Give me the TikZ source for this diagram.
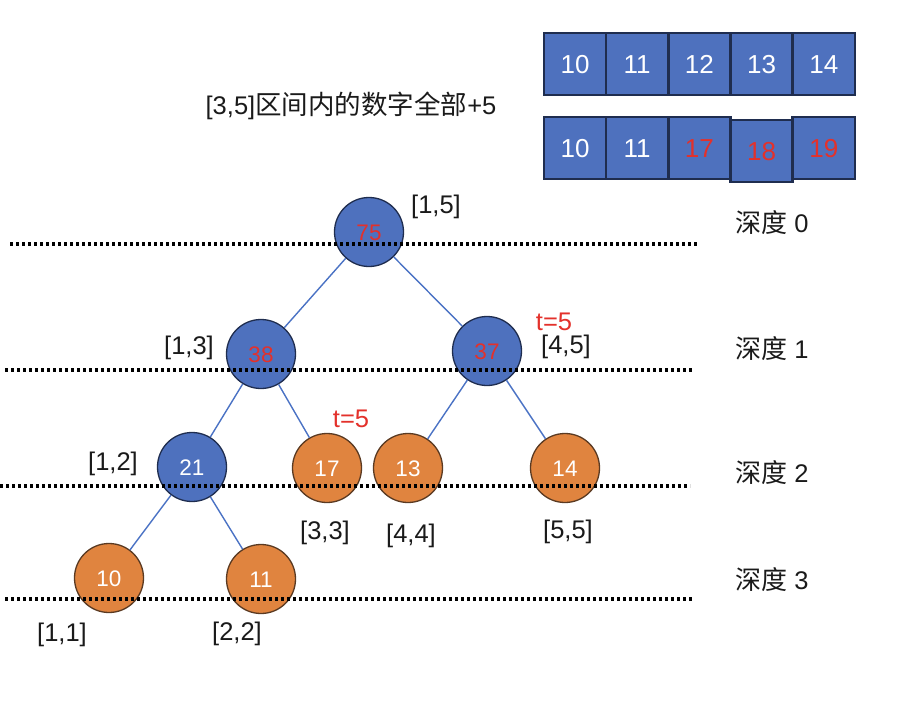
\documentclass[tikz,border=0pt]{standalone}
\usepackage{fontspec}
\setmainfont{Liberation Sans}
\newfontfamily\cjk{Noto Sans CJK SC}
\usetikzlibrary{positioning}
\definecolor{ink}{HTML}{1A1A1A}
\definecolor{nblue}{HTML}{4E71BE}
\definecolor{nborder}{HTML}{1F2D4F}
\definecolor{norange}{HTML}{E0843F}
\definecolor{oborder}{HTML}{5A3A22}
\definecolor{eblue}{HTML}{4A72C4}
\definecolor{cred}{HTML}{E3312B}
\tikzset{
  every picture/.style={line width=1pt,font=\fontsize{25.5}{28}\selectfont},
  cellb/.style={draw=nborder,line width=2.6pt,fill=nblue,minimum width=62.2pt,minimum height=62pt,inner sep=0pt,text=white,font=\fontsize{26}{28}\selectfont,text height=18.6pt,text depth=0pt},
  nodeb/.style={circle,draw=nborder,line width=1.3pt,fill=nblue,minimum size=69pt,inner sep=0pt,text=white,font=\fontsize{22.5}{24}\selectfont,text height=16pt,text depth=0pt},
  nodeo/.style={nodeb,draw=oborder,fill=norange},
  hot/.style={text=cred},
  lab/.style={text=ink,inner sep=0pt},
  tlab/.style={text=cred,inner sep=0pt},
  dep/.style={text=ink,inner sep=0pt},
  edge/.style={draw=eblue,line width=1.4pt},
  lvl/.style={draw=black,line width=3.1pt,dash pattern=on 3pt off 3pt},
}
\newcommand{\deep}[1]{{\cjk\fontsize{26}{28}\selectfont 深度} #1}

\begin{document}
\begin{tikzpicture}[x=1pt,y=-1pt]
  \useasboundingbox (0,0) rectangle (912,706);
  % array before / after
  \node[cellb] (a1) at (575,64) {10};
  \node[cellb] (a2) at (637.2,64) {11};
  \node[cellb] (a3) at (699.4,64) {12};
  \node[cellb] (a4) at (761.6,64) {13};
  \node[cellb] (a5) at (823.8,64) {14};
  \node[cellb] (b1) at (575,148) {10};
  \node[cellb] (b2) at (637.2,148) {11};
  \node[cellb,hot] (b3) at (699.4,148) {17};
  \node[cellb,hot] (b5) at (823.8,148) {19};
  \node[cellb,hot] (b4) at (761.6,151) {18};
  \node[lab] (task) at (351,106) {[3,5]{\cjk\fontsize{26.5}{28}\selectfont 区间内的数字全部}+5};
  % segment tree
  \node[nodeb,hot] (r) at (369,232) {75};
  \node[nodeb,hot] (l) at (261,354) {38};
  \node[nodeb,hot] (rr) at (487,351) {37};
  \node[nodeb] (ll) at (192,467) {21};
  \node[nodeo] (lr) at (327,468) {17};
  \node[nodeo] (rl) at (408,468) {13};
  \node[nodeo] (rrr) at (565,468) {14};
  \node[nodeo] (lll) at (109,578) {10};
  \node[nodeo] (llr) at (261,579) {11};
  \draw[edge] (r) -- (l);
  \draw[edge] (r) -- (rr);
  \draw[edge] (l) -- (ll);
  \draw[edge] (l) -- (lr);
  \draw[edge] (rr) -- (rl);
  \draw[edge] (rr) -- (rrr);
  \draw[edge] (ll) -- (lll);
  \draw[edge] (ll) -- (llr);
  % ranges and lazy tags
  \node[lab] (g15) at (436,207) {[1,5]};
  \node[lab] (g13) at (189,348) {[1,3]};
  \node[lab] (g45) at (566,347) {[4,5]};
  \node[lab] (g12) at (113,464) {[1,2]};
  \node[lab] (g33) at (325,533) {[3,3]};
  \node[lab] (g44) at (411,536) {[4,4]};
  \node[lab] (g55) at (568,532) {[5,5]};
  \node[lab] (g11) at (62,635) {[1,1]};
  \node[lab] (g22) at (237,634) {[2,2]};
  \node[tlab] (t1) at (554,322) {t=5};
  \node[tlab] (t2) at (351,419) {t=5};
  % depth levels
  \draw[lvl] (10,244) -- (697,244);
  \draw[lvl] (5,370) -- (693,370);
  \draw[lvl] (0,486) -- (690,486);
  \draw[lvl] (5,599) -- (692,599);
  \node[dep] (d0) at (772,223) {\deep{0}};
  \node[dep] (d1) at (772,349) {\deep{1}};
  \node[dep] (d2) at (772,473) {\deep{2}};
  \node[dep] (d3) at (772,580) {\deep{3}};
\end{tikzpicture}
\end{document}
